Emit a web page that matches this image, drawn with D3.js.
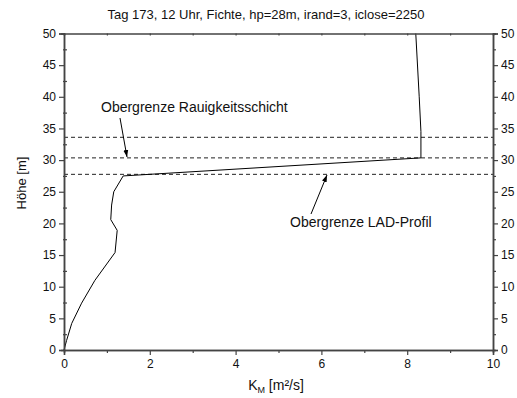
<!DOCTYPE html>
<html><head><meta charset="utf-8">
<script src="https://cdn.jsdelivr.net/npm/d3@7"></script>
<style>body{margin:0;background:#fff}svg{display:block}text{font-family:"Liberation Sans",Arial,sans-serif;fill:#111}</style>
</head><body>
<svg id="c" width="517" height="398"></svg>
<script>
const title = "Tag 173, 12 Uhr, Fichte, hp=28m, irand=3, iclose=2250";
const kmValues = [0, 0.06, 0.18, 0.41, 0.72, 1.19, 1.24, 1.09, 1.11, 1.16, 1.38, 8.32, 8.32, 8.28, 8.2];
const heightValues = [0, 1.5, 4.2, 7.4, 11, 15.4, 18.9, 20.6, 22.9, 25.0, 27.5, 30.35, 34.5, 40, 50];
const refLines = [33.6, 30.35, 27.75];
const xTicks = [0, 2, 4, 6, 8, 10];
const yTicks = [0, 5, 10, 15, 20, 25, 30, 35, 40, 45, 50];
const labels = ["Obergrenze Rauigkeitsschicht", "Obergrenze LAD-Profil"];

const svg = d3.select("#c");
const x = d3.scaleLinear().domain([0, 10]).range([64, 493]);
const y = d3.scaleLinear().domain([0, 50]).range([350, 33.5]);
const axCol = "#444";

svg.append("defs").append("marker").attr("id","ah").attr("viewBox","0 0 10 10")
  .attr("refX",10).attr("refY",5).attr("markerWidth",7).attr("markerHeight",7).attr("orient","auto-start-reverse")
  .append("path").attr("d","M0,1.5L10,5L0,8.5z").attr("fill","#000");

svg.selectAll(".ref").data(refLines).join("line")
  .attr("x1", x(0)).attr("x2", x(10)).attr("y1", d => y(d)).attr("y2", d => y(d))
  .attr("stroke", "#222").attr("stroke-dasharray", "4,3").attr("stroke-width", 1);

const pts = kmValues.map((v, i) => [v, heightValues[i]]);
svg.append("path").datum(pts)
  .attr("d", d3.line().x(d => x(d[0])).y(d => y(d[1])))
  .attr("fill", "none").attr("stroke", "#000").attr("stroke-width", 1);

function styleAxis(g){
  g.selectAll(".domain").attr("stroke", axCol).attr("stroke-width", 1.5);
  g.selectAll(".tick line").attr("stroke", axCol).attr("stroke-width", 1.2);
  g.selectAll(".tick text").attr("font-size", 12).attr("fill","#111").style("font-family","Liberation Sans, Arial, sans-serif");
}
const xMinor = d3.range(0, 10.01, 1);
const yMinor = d3.range(0, 50.01, 2.5);
const gb = svg.append("g").attr("transform", `translate(0,${y(0)})`);
gb.call(d3.axisBottom(x).tickValues(xMinor.filter(d => d % 2 !== 0)).tickSize(3).tickFormat(""));
const gb2 = svg.append("g").attr("transform", `translate(0,${y(0)})`)
  .call(d3.axisBottom(x).tickValues(xTicks).tickSize(5).tickPadding(4).tickFormat(d3.format("d")));
styleAxis(gb); styleAxis(gb2);
const gt = svg.append("g").attr("transform", `translate(0,${y(50)})`)
  .call(d3.axisBottom(x).tickValues(xMinor).tickSize(2).tickFormat(""));
styleAxis(gt);
const gl = svg.append("g").attr("transform", `translate(${x(0)},0)`)
  .call(d3.axisLeft(y).tickValues(yMinor.filter(d => d % 5 !== 0)).tickSize(3).tickFormat(""));
gl.selectAll(".tick line").attr("x1", 3).attr("x2", -1);
const gl2 = svg.append("g").attr("transform", `translate(${x(0)},0)`)
  .call(d3.axisLeft(y).tickValues(yTicks).tickSize(5).tickPadding(3).tickFormat(d3.format("d")));
styleAxis(gl); styleAxis(gl2);
const gr = svg.append("g").attr("transform", `translate(${x(10)},0)`)
  .call(d3.axisRight(y).tickValues(yMinor.filter(d => d % 5 !== 0)).tickSize(3).tickFormat(""));
const gr2 = svg.append("g").attr("transform", `translate(${x(10)},0)`)
  .call(d3.axisRight(y).tickValues(yTicks).tickSize(5).tickPadding(3).tickFormat(d3.format("d")));
styleAxis(gr); styleAxis(gr2);

svg.append("text").attr("x", 266).attr("y", 19).attr("text-anchor", "middle").attr("font-size", 13).text(title);
const xt = svg.append("text").attr("x", 276).attr("y", 390).attr("text-anchor", "middle").attr("font-size", 14);
xt.append("tspan").text("K");
xt.append("tspan").attr("font-size", 9).attr("dy", 3).text("M");
xt.append("tspan").attr("dy", -3).text(" [m²/s]");
svg.append("text").attr("transform", "translate(26,183) rotate(-90)").attr("text-anchor", "middle").attr("font-size", 13).text("Höhe [m]");

svg.append("text").attr("x", 101).attr("y", 112).attr("font-size", 14).text(labels[0]);
svg.append("line").attr("x1", 120).attr("y1", 118).attr("x2", 127).attr("y2", 157)
  .attr("stroke", "#000").attr("marker-end", "url(#ah)");
svg.append("text").attr("x", 290).attr("y", 227).attr("font-size", 14).text(labels[1]);
svg.append("line").attr("x1", 311).attr("y1", 214).attr("x2", 327).attr("y2", 175)
  .attr("stroke", "#000").attr("marker-end", "url(#ah)");
</script>
</body></html>
